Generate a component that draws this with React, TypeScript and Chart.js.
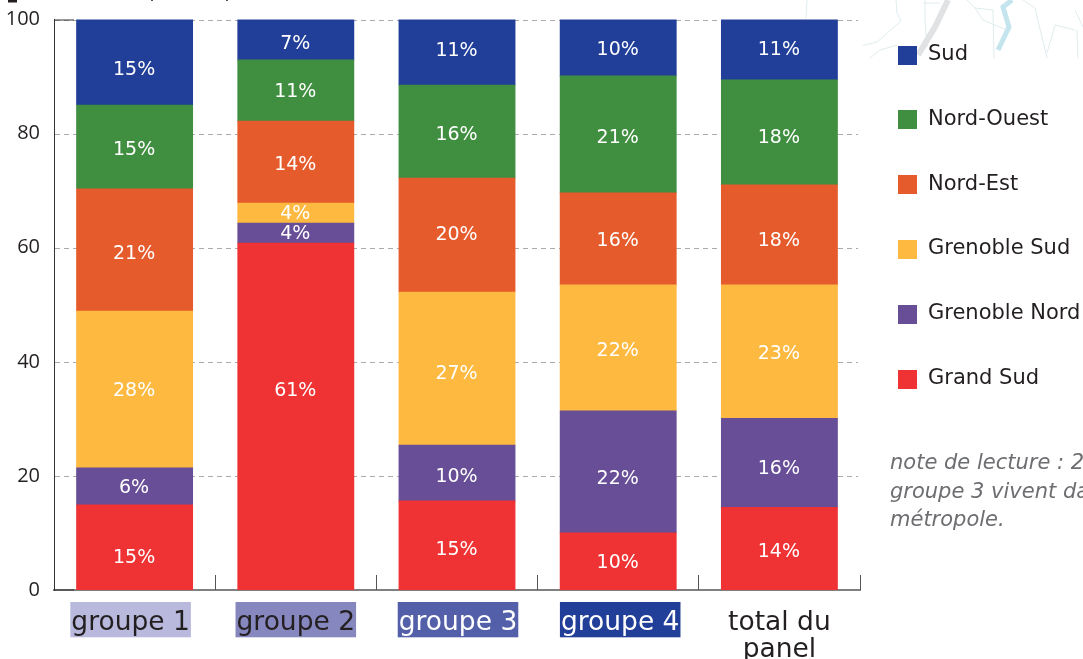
import React, { useEffect, useRef } from "react";
import { Chart, registerables } from "chart.js";

Chart.register(...registerables);

const categories = ["groupe 1", "groupe 2", "groupe 3", "groupe 4", ["total du", "panel"]];
const grandSud = [14.9, 60.8, 15.6, 10, 14.5];
const grenobleNord = [6.5, 3.5, 9.8, 21.4, 15.6];
const grenobleSud = [27.5, 3.5, 26.8, 22.1, 23.4];
const nordEst = [21.4, 14.4, 20, 16.1, 17.5];
const nordOuest = [14.7, 10.7, 16.3, 20.5, 18.4];
const sud = [15, 7.1, 11.5, 9.9, 10.6];

const labelsGrandSud = ["15%", "61%", "15%", "10%", "14%"];
const labelsGrenobleNord = ["6%", "4%", "10%", "22%", "16%"];
const labelsGrenobleSud = ["28%", "4%", "27%", "22%", "23%"];
const labelsNordEst = ["21%", "14%", "20%", "16%", "18%"];
const labelsNordOuest = ["15%", "11%", "16%", "21%", "18%"];
const labelsSud = ["15%", "7%", "11%", "10%", "11%"];

// hand placement of the printed percentages relative to each segment's centre
const nudges = [
  [9, -27, 3, 0, 2],
  [0, -1, 3, 6, 5],
  [0, -1, 4, 2, 1],
  [3, 1, -2, 1, 5],
  [2, 0, 2, 2, 4],
  [6, 3, -3, 1, -1],
];
const tickNudges = [-4, 0, 1, 2, 0];

const noteLines = ["note de lecture : 2", "groupe 3 vivent da", "métropole."];
const tickBackgrounds = ["#b8b9dc", "#8787bf", "#5360a9", "#213e98", "rgba(0,0,0,0)"];
const tickColors = ["#231f20", "#231f20", "#ffffff", "#ffffff", "#231f20"];

const SANS = '"DejaVu Sans"';

const overlay = {
  id: "overlay",
  afterDatasetsDraw(chart: any) {
    const { ctx, chartArea, scales } = chart;
    const { left, right, bottom, top } = chartArea;
    ctx.save();
    // segment percentages
    ctx.font = `19px ${SANS}`;
    ctx.fillStyle = "#ffffff";
    ctx.textAlign = "center";
    ctx.textBaseline = "middle";
    chart.data.datasets.forEach((ds: any, d: number) => {
      chart.getDatasetMeta(d).data.forEach((bar: any, i: number) => {
        const { x, y, base } = bar.getProps(["x", "y", "base"], true);
        ctx.fillText(ds.percentLabels[i], x - 0.5, (y + base) / 2 + nudges[d][i] + 1.5);
      });
    });
    // ticks between categories, pointing up
    const x = scales.x;
    const step = (right - left) / categories.length;
    ctx.strokeStyle = "#555555";
    ctx.lineWidth = 1;
    for (let i = 0; i < categories.length; i++) {
      const px = Math.floor(x.getPixelForValue(i) + step / 2) + 0.5;
      ctx.beginPath();
      ctx.moveTo(px, bottom);
      ctx.lineTo(px, bottom - 15);
      ctx.stroke();
    }
    // short solid corners of the left axis
    ctx.strokeStyle = "#333333";
    ctx.beginPath();
    ctx.moveTo(left, top + 0.5);
    ctx.lineTo(left + 20, top + 0.5);
    ctx.moveTo(left, bottom);
    ctx.lineTo(left + 20, bottom);
    ctx.stroke();
    // legend
    ctx.textAlign = "left";
    ctx.font = `21px ${SANS}`;
    const n = chart.data.datasets.length;
    chart.data.datasets.forEach((ds: any, d: number) => {
      const cy = 55 + (n - 1 - d) * 64.8;
      ctx.fillStyle = ds.backgroundColor;
      ctx.fillRect(898, Math.round(cy - 9.5), 19, 19);
      ctx.fillStyle = "#231f20";
      ctx.fillText(ds.label, 928, cy - 0.5);
    });
    // reading note
    ctx.font = `italic 21px ${SANS}`;
    ctx.fillStyle = "#6d6e71";
    noteLines.forEach((line, i) => ctx.fillText(line, 890, 464 + i * 28.5));
    ctx.restore();
  },
};

export default function App() {
  const ref = useRef<HTMLCanvasElement>(null);
  useEffect(() => {
    document.body.style.margin = "0";
    const chart = new Chart(ref.current!, {
      type: "bar",
      data: {
        labels: categories as any,
        datasets: [
          { label: "Grand Sud", data: grandSud, backgroundColor: "#ef3233", percentLabels: labelsGrandSud },
          { label: "Grenoble Nord", data: grenobleNord, backgroundColor: "#674e96", percentLabels: labelsGrenobleNord },
          { label: "Grenoble Sud", data: grenobleSud, backgroundColor: "#feb940", percentLabels: labelsGrenobleSud },
          { label: "Nord-Est", data: nordEst, backgroundColor: "#e55b2c", percentLabels: labelsNordEst },
          { label: "Nord-Ouest", data: nordOuest, backgroundColor: "#408e40", percentLabels: labelsNordOuest },
          { label: "Sud", data: sud, backgroundColor: "#213e98", percentLabels: labelsSud },
        ] as any,
      },
      options: {
        animation: false,
        responsive: false,
        layout: { padding: { top: 19.5, right: 223, left: 0, bottom: 0 } },
        datasets: { bar: { barPercentage: 0.72, categoryPercentage: 1, inflateAmount: 0.4 } },
        plugins: { legend: { display: false }, title: { display: false }, tooltip: { enabled: false } },
        scales: {
          x: {
            stacked: true,
            afterFit: (s: any) => {
              s.height = 69;
              s.paddingLeft = 0;
              s.paddingRight = 0;
            },
            afterUpdate: (s: any) => {
              const orig = s.getLabelItems.bind(s);
              const seen = new WeakSet();
              s.getLabelItems = (area: any) => {
                const items = orig(area);
                if (!seen.has(items)) {
                  seen.add(items);
                  items.forEach((item: any, i: number) => {
                    item.options.translation[0] += tickNudges[i];
                  });
                }
                return items;
              };
            },
            grid: { display: false },
            border: { color: "#808080", width: 2 },
            ticks: {
              maxRotation: 0,
              autoSkip: false,
              padding: 11,
              font: { family: "DejaVu Sans", size: 26.5, lineHeight: 1.03 },
              color: (c: any) => tickColors[c.index],
              showLabelBackdrop: true,
              backdropColor: (c: any) => tickBackgrounds[c.index],
              backdropPadding: { top: 7, bottom: 1, left: 1, right: 1 },
            },
          },
          y: {
            stacked: true,
            min: 0,
            max: 100,
            afterFit: (s: any) => {
              s.width = 54;
              s.paddingTop = 0;
              s.paddingBottom = 0;
            },
            border: { color: "#333333", width: 1 },
            grid: { color: "#aaaaaa", lineWidth: 1, drawTicks: false, tickLength: 0 },
            ticks: {
              stepSize: 20,
              padding: 14,
              font: { family: "Open Sans", size: 20 },
              color: "#231f20",
            },
          },
        },
      },
      plugins: [
        {
          id: "dashGrid",
          beforeDatasetsDraw(chart: any) {
            const { ctx, chartArea } = chart;
            const y = chart.scales.y;
            ctx.save();
            ctx.fillStyle = "#ffffff";
            ctx.fillRect(chartArea.left + 1, chartArea.top - 1, chartArea.width + 2, chartArea.height);
            ctx.strokeStyle = "#aaaaaa";
            ctx.setLineDash([5, 4]);
            ctx.lineWidth = 1;
            [20, 40, 60, 80, 100].forEach((v) => {
              const py = Math.round(y.getPixelForValue(v)) + 0.5;
              ctx.beginPath();
              ctx.moveTo(chartArea.left + 1, py);
              ctx.lineTo(chartArea.right - 2, py);
              ctx.stroke();
            });
            ctx.restore();
          },
        },
        overlay,
      ],
    } as any);
    return () => chart.destroy();
  }, []);
  return (
    <div style={{ position: "relative", width: 1083, height: 659, overflow: "hidden" }}>
      <svg
        width={1083}
        height={659}
        style={{ position: "absolute", left: 0, top: 0 }}
        fill="none"
        stroke="#e0ecee"
        strokeWidth={1}
      >
        <rect x={8} y={0} width={9} height={2.5} fill="#231f20" stroke="none" />
        <rect x={151} y={0} width={2} height={1} fill="#555" stroke="none" />
        <rect x={226} y={0} width={2} height={1} fill="#555" stroke="none" />
        <path d="M807 0 L806 18" />
        <path d="M838 32 L850 35 L853 48 L855 58" />
        <path d="M853 48 L877 42 L901 21 L897 13 L896 0" />
        <path d="M870 58 L880 50 L897 45" />
        <path d="M925 0 L925 20 L927 47" />
        <path d="M923 3 L940 3" />
        <path d="M967 0 L975 8 L993 10 L994 58" />
        <path d="M975 8 L983 20 L1007 30" />
        <path d="M1023 0 L1035 8 L1047 58" />
        <path d="M1047 53 L1055 25 L1075 30" />
        <path d="M1075 10 L1083 27" />
        <path d="M1077 30 L1078 58" />
        <path d="M1012 0 L1003 7 L1009 27 L998 50" stroke="#c4e4ee" strokeWidth={5} />
        <path d="M948 0 L935 27 L918 55" stroke="#e0e2e4" strokeWidth={6} />
      </svg>
      <canvas ref={ref} width={1083} height={659} style={{ position: "absolute", left: 0, top: 0 }} />
    </div>
  );
}
